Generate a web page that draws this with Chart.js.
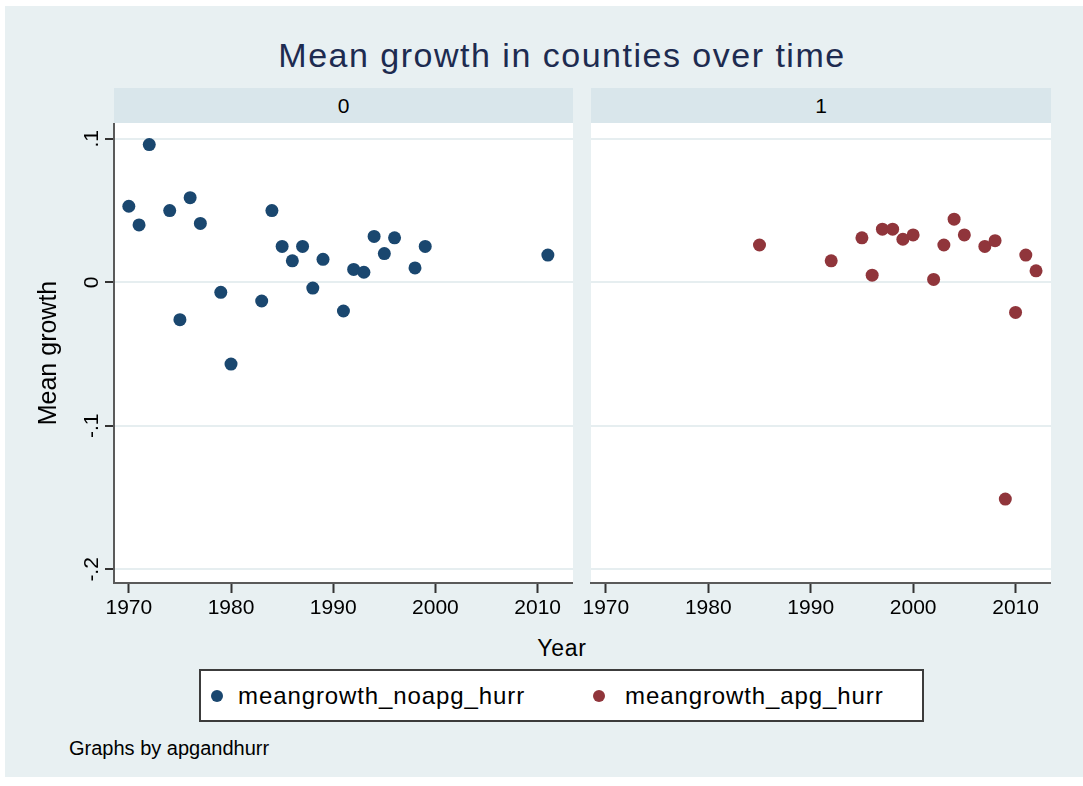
<!DOCTYPE html>
<html>
<head>
<meta charset="utf-8">
<script src="https://cdn.jsdelivr.net/npm/chart.js@4.4.1/dist/chart.umd.min.js"></script>
<style>
  html, body { margin: 0; padding: 0; background: #ffffff; }
  body { width: 1083px; height: 786px; position: relative; overflow: hidden;
         font-family: "Liberation Sans", Arial, Helvetica, sans-serif; color: #000; }
  #frame { position: absolute; left: 5px; top: 6px; width: 1078px; height: 771px; background: #e8f0f2; }
  .abs { position: absolute; white-space: nowrap; }
  #title { left: 0; width: 1124px; top: 38px; text-align: center; font-size: 34px; line-height: 34px;
           letter-spacing: 1.5px; color: #1d2b50; }
  .strip { position: absolute; top: 88px; height: 35px; background: #d9e6eb; text-align: center;
           font-size: 21px; line-height: 35px; }
  canvas { position: absolute; }
  #xtitle { left: 0; width: 1124px; top: 637px; text-align: center; font-size: 23px; line-height: 23px; letter-spacing: 0.7px; }
  #legend { position: absolute; left: 199px; top: 669px; width: 721px; height: 49px; background: #fff;
            border: 2px solid #3c3c3c; }
  .lg-dot { position: absolute; width: 12px; height: 12px; border-radius: 50%; top: 19px; }
  .lg-text { position: absolute; top: 13px; font-size: 24px; line-height: 24px; letter-spacing: 0.9px; }
  #note { left: 69px; top: 738px; font-size: 20px; line-height: 20px; }
</style>
</head>
<body>
<div id="frame"></div>
<div id="title" class="abs">Mean growth in counties over time</div>
<div id="strip0" class="strip" style="left:114px;width:459px;"></div>
<div id="strip1" class="strip" style="left:591px;width:460px;"></div>
<canvas id="panel0" width="553" height="500" style="left:20px;top:123px;"></canvas>
<canvas id="panel1" width="476" height="500" style="left:575px;top:123px;"></canvas>
<div id="xtitle" class="abs">Year</div>
<div id="legend"></div>
<div id="note" class="abs">Graphs by apgandhurr</div>

<script>
// Axis ticks
const yearTicks = [1970, 1980, 1990, 2000, 2010];
const growthTicks = [-0.2, -0.1, 0, 0.1];
const growthTickLabels = ['-.2', '-.1', '0', '.1'];

// Panel captions (apgandhurr = 0 / 1)
const panelLabels = ['0', '1'];

// Series: counties without APG / hurricane
const yearsNoApg = [1970, 1971, 1972, 1974, 1975, 1976, 1977, 1979, 1980, 1983, 1984, 1985, 1986,
                    1987, 1988, 1989, 1991, 1992, 1993, 1994, 1995, 1996, 1998, 1999, 2011];
const growthNoApg = [0.053, 0.040, 0.096, 0.050, -0.026, 0.059, 0.041, -0.007, -0.057, -0.013, 0.050, 0.025, 0.015,
                     0.025, -0.004, 0.016, -0.020, 0.009, 0.007, 0.032, 0.020, 0.031, 0.010, 0.025, 0.019];

// Series: counties with APG / hurricane
const yearsApg = [1985, 1992, 1995, 1996, 1997, 1998, 1999, 2000, 2002, 2003, 2004, 2005, 2007, 2008,
                  2009, 2010, 2011, 2012];
const growthApg = [0.026, 0.015, 0.031, 0.005, 0.037, 0.037, 0.030, 0.033, 0.002, 0.026, 0.044, 0.033, 0.025, 0.029,
                   -0.151, -0.021, 0.019, 0.008];

const seriesNames = ['meangrowth_noapg_hurr', 'meangrowth_apg_hurr'];
const seriesColors = ['#1a476f', '#90353b'];

const FONT = '"Liberation Sans", Arial, Helvetica, sans-serif';
const X_MIN = 1968.55, X_MAX = 2013.46;
const Y_MIN = -0.2095, Y_MAX = 0.111;

document.getElementById('strip0').textContent = panelLabels[0];
document.getElementById('strip1').textContent = panelLabels[1];

// White plot region behind each panel
const plotBackground = {
  id: 'plotBackground',
  beforeDraw(chart) {
    const { ctx, chartArea: a } = chart;
    ctx.save();
    ctx.fillStyle = '#ffffff';
    ctx.fillRect(a.left, a.top, a.right - a.left, a.bottom - a.top);
    ctx.restore();
  }
};

function toPoints(xs, ys) {
  return xs.map((x, i) => ({ x: x, y: ys[i] }));
}

function panelConfig(xs, ys, color, withYAxis) {
  const yScale = withYAxis ? {
    min: Y_MIN, max: Y_MAX,
    afterBuildTicks: s => { s.ticks = growthTicks.map(v => ({ value: v })); },
    afterFit: s => { s.width = 94; s.paddingTop = 0; s.paddingBottom = 0; },
    grid: { color: '#e6eef0', lineWidth: 2, drawTicks: true, tickLength: 9, tickColor: '#333', tickWidth: 2 },
    border: { display: true, color: '#5a5a5a', width: 2 },
    ticks: {
      font: { family: FONT, size: 21 }, color: '#000', padding: 1,
      minRotation: 90, maxRotation: 90, crossAlign: 'center', autoSkip: false,
      callback: (v, i) => growthTickLabels[i]
    },
    title: { display: true, text: 'Mean growth', color: '#000',
             font: { family: FONT, size: 25 }, padding: { top: 14, bottom: 0 } }
  } : {
    min: Y_MIN, max: Y_MAX,
    afterBuildTicks: s => { s.ticks = growthTicks.map(v => ({ value: v })); },
    afterFit: s => { s.width = 16; s.paddingTop = 0; s.paddingBottom = 0; },
    grid: { color: '#e6eef0', lineWidth: 2, drawTicks: false },
    border: { display: false },
    ticks: { display: false }
  };

  return {
    type: 'scatter',
    data: {
      datasets: [{
        data: toPoints(xs, ys),
        backgroundColor: color,
        borderColor: color,
        pointRadius: 6.5,
        pointHoverRadius: 6.5,
        pointBorderWidth: 0
      }]
    },
    options: {
      responsive: false,
      animation: false,
      events: [],
      layout: { padding: 0, autoPadding: false },
      plugins: { legend: { display: false }, tooltip: { enabled: false } },
      scales: {
        x: {
          type: 'linear', min: X_MIN, max: X_MAX,
          afterBuildTicks: s => { s.ticks = yearTicks.map(v => ({ value: v })); },
          afterFit: s => { s.height = 40; s.paddingLeft = 0; s.paddingRight = 0; },
          grid: { drawOnChartArea: false, drawTicks: true, tickLength: 10, tickColor: '#333', tickWidth: 2 },
          border: { display: true, color: '#5a5a5a', width: 2 },
          ticks: { font: { family: FONT, size: 21 }, color: '#000', padding: 3,
                   maxRotation: 0, autoSkip: false, callback: v => String(v) }
        },
        y: yScale
      }
    },
    plugins: [plotBackground]
  };
}

new Chart(document.getElementById('panel0'), panelConfig(yearsNoApg, growthNoApg, seriesColors[0], true));
new Chart(document.getElementById('panel1'), panelConfig(yearsApg, growthApg, seriesColors[1], false));

// Legend
const legend = document.getElementById('legend');
const legendPos = [{ dot: 10, text: 37 }, { dot: 392, text: 424 }];
seriesNames.forEach((name, i) => {
  const dot = document.createElement('div');
  dot.className = 'lg-dot';
  dot.style.left = legendPos[i].dot + 'px';
  dot.style.background = seriesColors[i];
  const txt = document.createElement('div');
  txt.className = 'lg-text';
  txt.style.left = legendPos[i].text + 'px';
  txt.textContent = name;
  legend.appendChild(dot);
  legend.appendChild(txt);
});
</script>
</body>
</html>
